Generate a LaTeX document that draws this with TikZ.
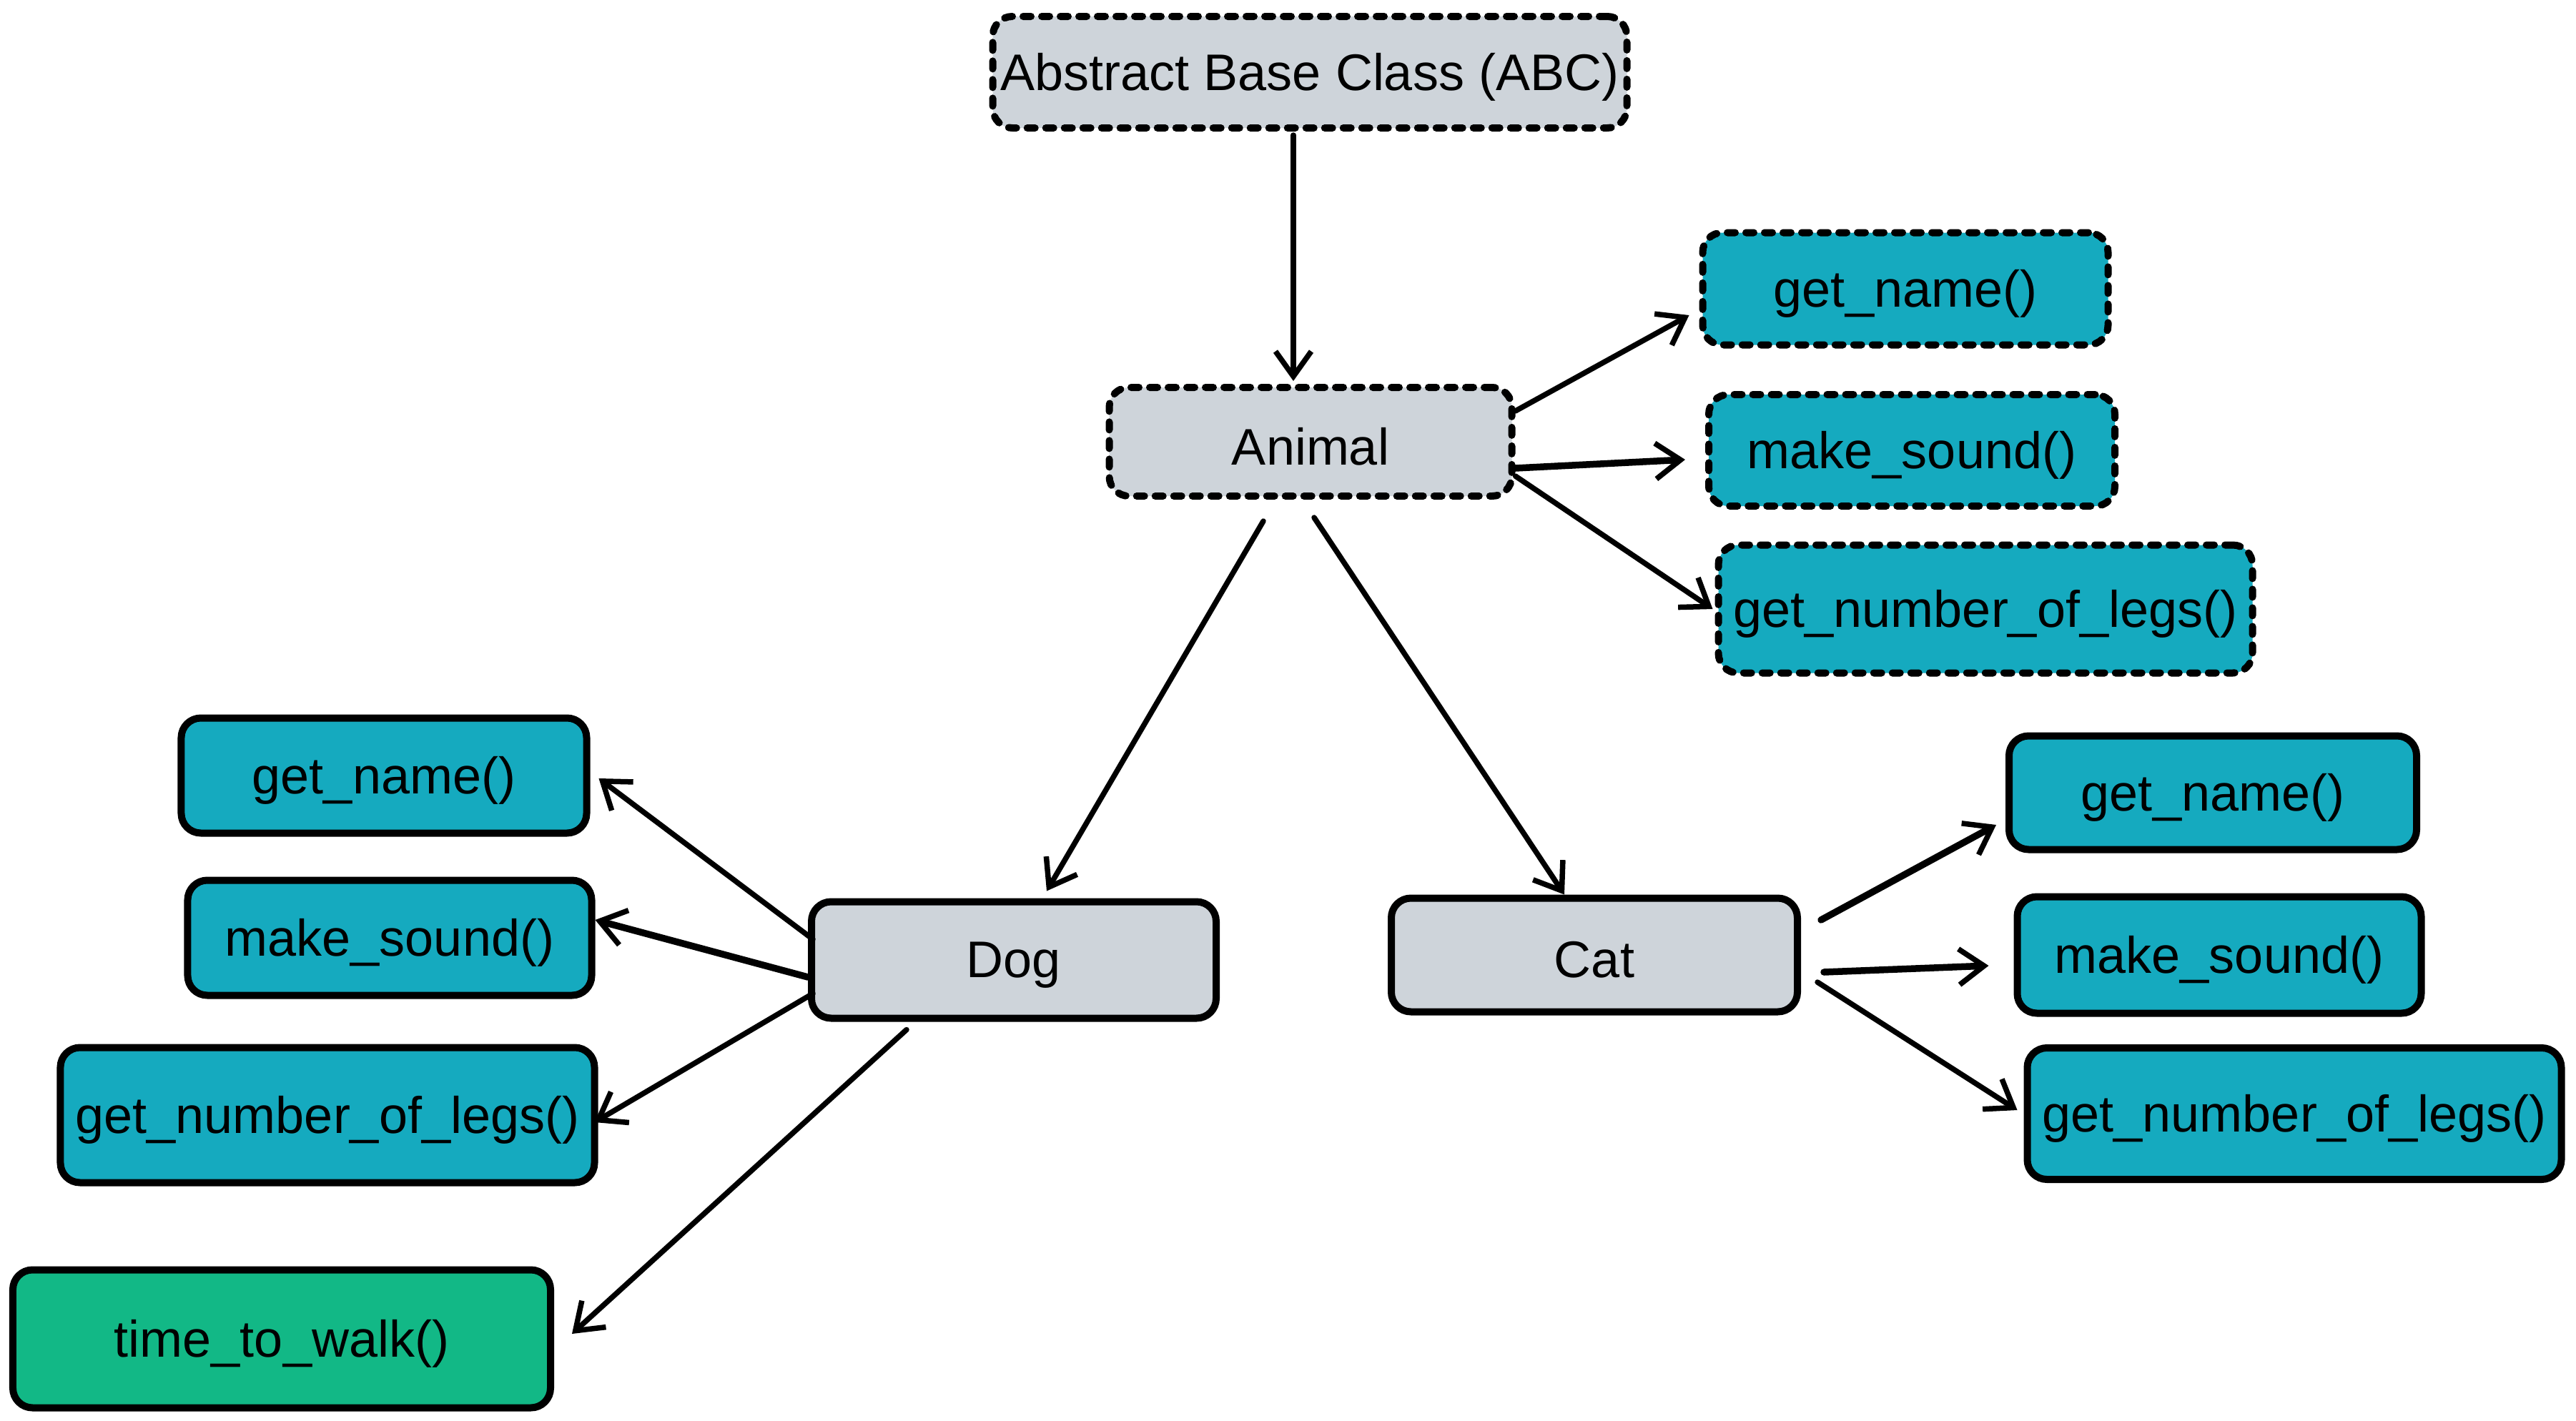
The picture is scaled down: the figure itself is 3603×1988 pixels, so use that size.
\documentclass[tikz,border=0pt]{standalone}
\usepackage{fontspec}
\setmainfont{Liberation Sans}
\usetikzlibrary{arrows.meta}
\definecolor{absgray}{HTML}{CED4DA}
\definecolor{methcyan}{HTML}{15AABF}
\definecolor{methgreen}{HTML}{12B886}
\newcommand\lowtxt[1]{\raisebox{-1.4pt}[\height][\depth]{#1}}
\begin{document}
\begin{tikzpicture}[x=0.2pt,y=-0.2pt,
 box/.style={draw=black, line width=2pt, rounded corners=5.5pt, font=\fontsize{14.4pt}{17pt}\selectfont, inner sep=0pt, align=center},
 absbox/.style={box, dash pattern=on 2.2pt off 3pt, line cap=round},
 graybox/.style={fill=absgray},
 cyanbox/.style={fill=methcyan},
 greenbox/.style={fill=methgreen},
 conn/.style={line width=1.5pt, line cap=round, -{Straight Barb[length=7pt,width=10pt,line width=1.5pt]}},
 bold/.style={line width=1.9pt},
]
\path[use as bounding box] (0,0) rectangle (3603,1988);

% abstract nodes
\node[absbox, graybox, minimum width=177.4pt, minimum height=31.2pt] (abc) at (1832,101) {\lowtxt{Abstract Base Class (ABC)}};
\node[absbox, graybox, minimum width=112.6pt, minimum height=30.4pt] (animal) at (1833,618) {\lowtxt{Animal}};
\node[absbox, cyanbox, minimum width=113.4pt, minimum height=31.4pt] (tgn) at (2665,404) {\lowtxt{get\_name()}};
\node[absbox, cyanbox, minimum width=113.6pt, minimum height=31.2pt] (tms) at (2674,630) {\lowtxt{make\_sound()}};
\node[absbox, cyanbox, minimum width=149.4pt, minimum height=35.8pt] (tlegs) at (2777,852) {\lowtxt{get\_number\_of\_legs()}};

% concrete nodes
\node[box, graybox, minimum width=113.2pt, minimum height=32.6pt] (dog) at (1418,1343) {\lowtxt{Dog}};
\node[box, graybox, minimum width=113.6pt, minimum height=31.8pt] (cat) at (2230,1336) {\lowtxt{Cat}};

\node[box, cyanbox, minimum width=113.4pt, minimum height=32.2pt] (lgn) at (537,1085) {\lowtxt{get\_name()}};
\node[box, cyanbox, minimum width=113pt, minimum height=32.2pt] (lms) at (545,1312) {\lowtxt{make\_sound()}};
\node[box, cyanbox, minimum width=149.4pt, minimum height=37.8pt] (llegs) at (458,1560) {\lowtxt{get\_number\_of\_legs()}};
\node[box, greenbox, minimum width=150.4pt, minimum height=38.6pt] (walk) at (394,1873) {\lowtxt{time\_to\_walk()}};

\node[box, cyanbox, minimum width=114pt, minimum height=31.8pt] (rgn) at (3095,1109) {\lowtxt{get\_name()}};
\node[box, cyanbox, minimum width=113pt, minimum height=32.6pt] (rms) at (3104,1336) {\lowtxt{make\_sound()}};
\node[box, cyanbox, minimum width=149.4pt, minimum height=36.8pt] (rlegs) at (3209,1558) {\lowtxt{get\_number\_of\_legs()}};

% connectors
\draw[conn] ([xshift=-4.6pt,yshift=-1pt]abc.south) -- ([xshift=-4.8pt,yshift=0.8pt]animal.north);

\draw[conn] ([yshift=8.6pt]animal.east) -- ([xshift=-2.8pt,yshift=-7.4pt]tgn.west);
\draw[conn, bold] ([yshift=-7.4pt]animal.east) -- ([xshift=-5.6pt,yshift=-2.6pt]tms.west);
\draw[conn] ([yshift=-9.6pt]animal.east) -- ([xshift=-0.6pt]tlegs.west);

\draw[conn] ([xshift=-13.2pt,yshift=-6pt]animal.south) -- ([xshift=9.2pt,yshift=2pt]dog.north);
\draw[conn] ([xshift=1pt,yshift=-5pt]animal.south) -- ([xshift=-8.4pt]cat.north);

\draw[conn] ([xshift=1.4pt,yshift=5.8pt]dog.west) -- ([xshift=2.4pt,yshift=-0.8pt]lgn.east);
\draw[conn, bold] ([yshift=-4.8pt]dog.west) -- ([yshift=5pt]lms.east);
\draw[conn] ([xshift=1.4pt,yshift=-9.4pt]dog.west) -- ([xshift=-1pt,yshift=-2pt]llegs.east);
\draw[conn] ([xshift=-30pt,yshift=-2.2pt]dog.south) -- ([xshift=5pt,yshift=1.4pt]walk.east);

\draw[conn, bold] ([xshift=5.6pt,yshift=9.8pt]cat.east) -- ([xshift=-2.6pt,yshift=-9pt]rgn.west);
\draw[conn, bold] ([xshift=6.4pt,yshift=-4.8pt]cat.east) -- ([xshift=-7pt,yshift=-3pt]rms.west);
\draw[conn] ([xshift=4.6pt,yshift=-7.6pt]cat.east) -- ([xshift=-1.8pt,yshift=1pt]rlegs.west);
\end{tikzpicture}
\end{document}
